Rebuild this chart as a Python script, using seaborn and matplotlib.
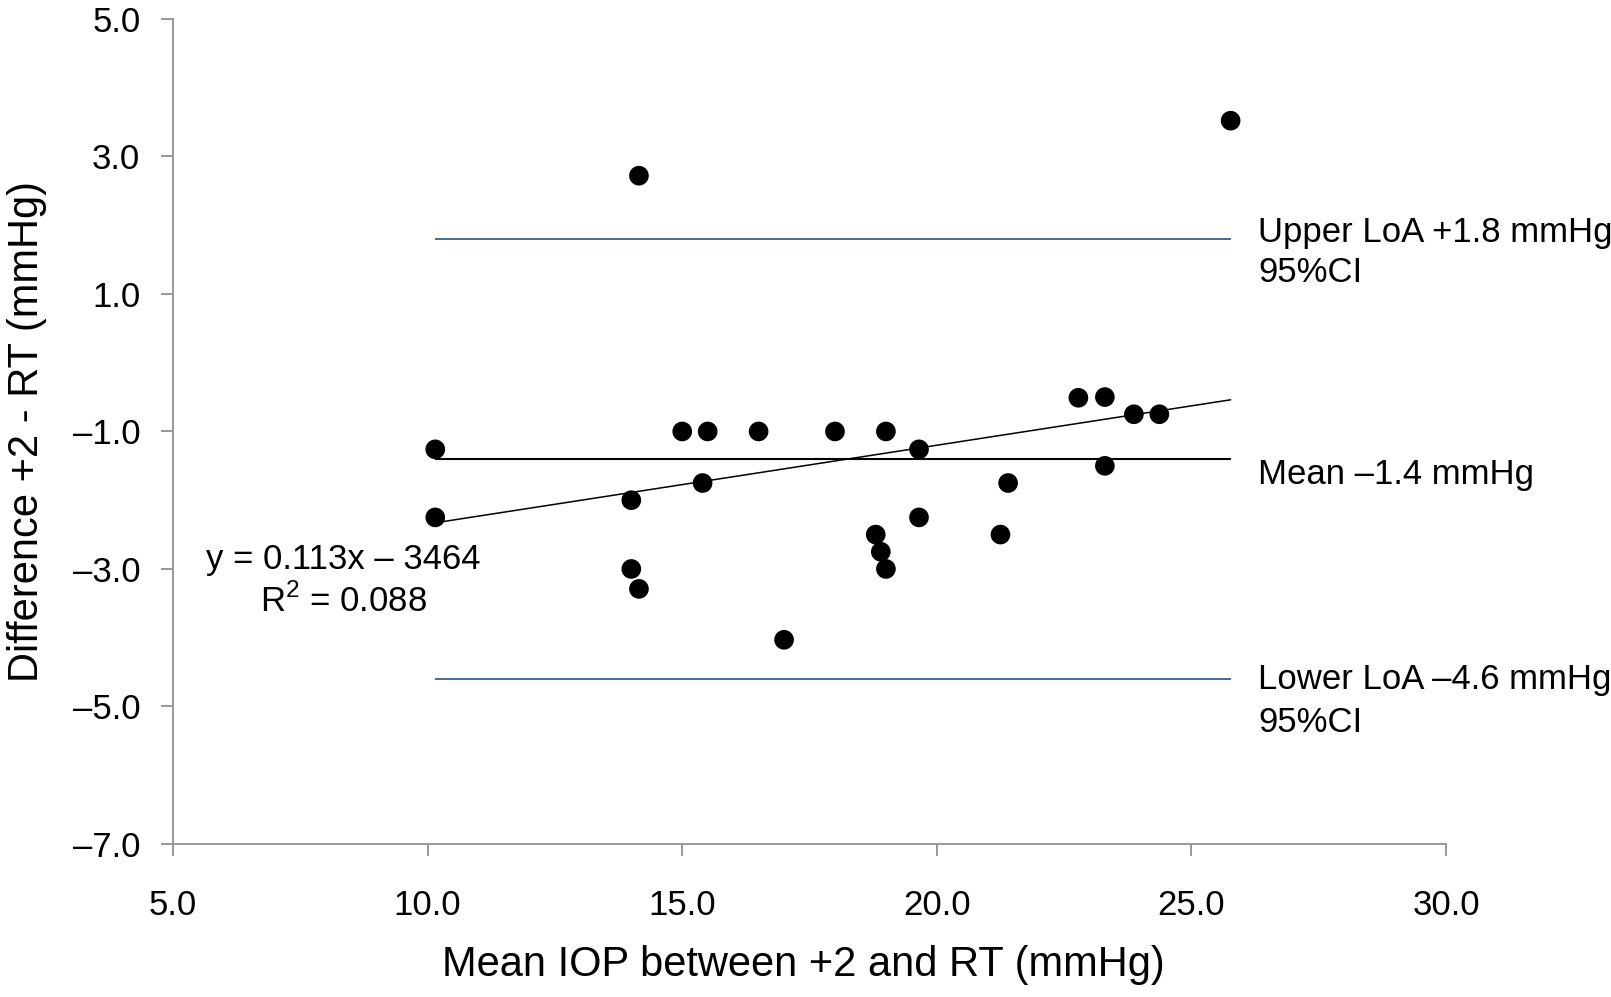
import numpy as np
import pandas as pd
import seaborn as sns
import matplotlib.pyplot as plt

# Bland-Altman data
mean_iop = [10.15, 10.15, 14.15, 14.0, 14.0, 14.15, 15.0, 15.5, 15.4, 16.5, 17.0, 18.0, 19.0,
            19.65, 19.65, 18.8, 18.9, 19.0, 21.25, 21.4, 22.78, 23.3, 23.3, 23.87, 24.37, 25.77]
diff = [-1.26, -2.25, 2.72, -2.0, -3.0, -3.29, -1.0, -1.0, -1.75, -1.0, -4.03, -1.0, -1.0,
        -1.26, -2.25, -2.5, -2.75, -3.0, -2.5, -1.75, -0.51, -0.5, -1.5, -0.75, -0.75, 3.52]
mean_diff = -1.4
upper_loa = 1.8
lower_loa = -4.6
x_ticks = [5.0, 10.0, 15.0, 20.0, 25.0, 30.0]
y_ticks = [5.0, 3.0, 1.0, -1.0, -3.0, -5.0, -7.0]

data = pd.DataFrame({"mean_iop": mean_iop, "diff": diff})

sns.set_theme(style="white")
plt.rcParams["font.family"] = ["Liberation Sans", "DejaVu Sans"]
plt.rcParams["mathtext.fontset"] = "custom"
plt.rcParams["mathtext.rm"] = "Liberation Sans"

fig = plt.figure(figsize=(16.11, 9.97), dpi=100)
ax = fig.add_axes([0.1074, 0.1535, 0.7902, 0.8275])

xmin, xmax = min(mean_iop), max(mean_iop)
ax.hlines(upper_loa, xmin, xmax, color="#4a6a8c", lw=1.4)
ax.hlines(lower_loa, xmin, xmax, color="#4a6a8c", lw=1.4)
ax.hlines(mean_diff, xmin, xmax, color="black", lw=1.5)
sns.regplot(x="mean_iop", y="diff", data=data, ci=None, scatter=False,
            color="black", line_kws={"lw": 1.1}, ax=ax)
sns.scatterplot(x="mean_iop", y="diff", data=data, color="black", s=200,
                edgecolor="none", ax=ax, zorder=5)

fs = 25
ax.text(26.31, upper_loa - 0.05, "Upper LoA +1.8 mmHg", fontsize=fs, va="baseline", color="black")
ax.text(26.31, upper_loa - 0.63, "95%CI", fontsize=fs, va="baseline", color="black")
ax.text(26.31, mean_diff - 0.36, "Mean \u20131.4 mmHg", fontsize=fs, va="baseline", color="black")
ax.text(26.31, lower_loa - 0.15, "Lower LoA \u20134.6 mmHg", fontsize=fs, va="baseline", color="black")
ax.text(26.31, lower_loa - 0.77, "95%CI", fontsize=fs, va="baseline", color="black")
ax.text(8.34, -3.0, "y = 0.113x \u2013 3464", fontsize=fs, ha="center", va="baseline", color="black")
ax.text(8.34, -3.63, "R$^2$ = 0.088", fontsize=fs, ha="center", va="baseline", color="black")

ax.set_xlim(5, 30)
ax.set_ylim(-7, 5)
ax.set_xticks(x_ticks)
ax.set_xticklabels([f"{v:.1f}" for v in x_ticks])
ax.set_yticks(y_ticks)
ax.set_yticklabels([f"{v:.1f}".replace("-", "\u2013") for v in y_ticks])
ax.tick_params(axis="both", direction="out", length=8.5, width=1.4, color="#999999",
               labelsize=fs, labelcolor="black", bottom=True, left=True)
ax.tick_params(axis="x", pad=24)
ax.tick_params(axis="y", pad=15)
for side in ["top", "right"]:
    ax.spines[side].set_visible(False)
for side in ["left", "bottom"]:
    ax.spines[side].set_color("#999999")
    ax.spines[side].set_linewidth(1.4)

ax.set_xlabel("Mean IOP between +2 and RT (mmHg)", fontsize=30, color="black")
ax.set_ylabel("Difference +2 - RT (mmHg)", fontsize=30, color="black")
ax.xaxis.set_label_coords(0.495, -0.122)
ax.yaxis.set_label_coords(-0.099, 0.5)

fig.savefig("out.png", dpi=100)
